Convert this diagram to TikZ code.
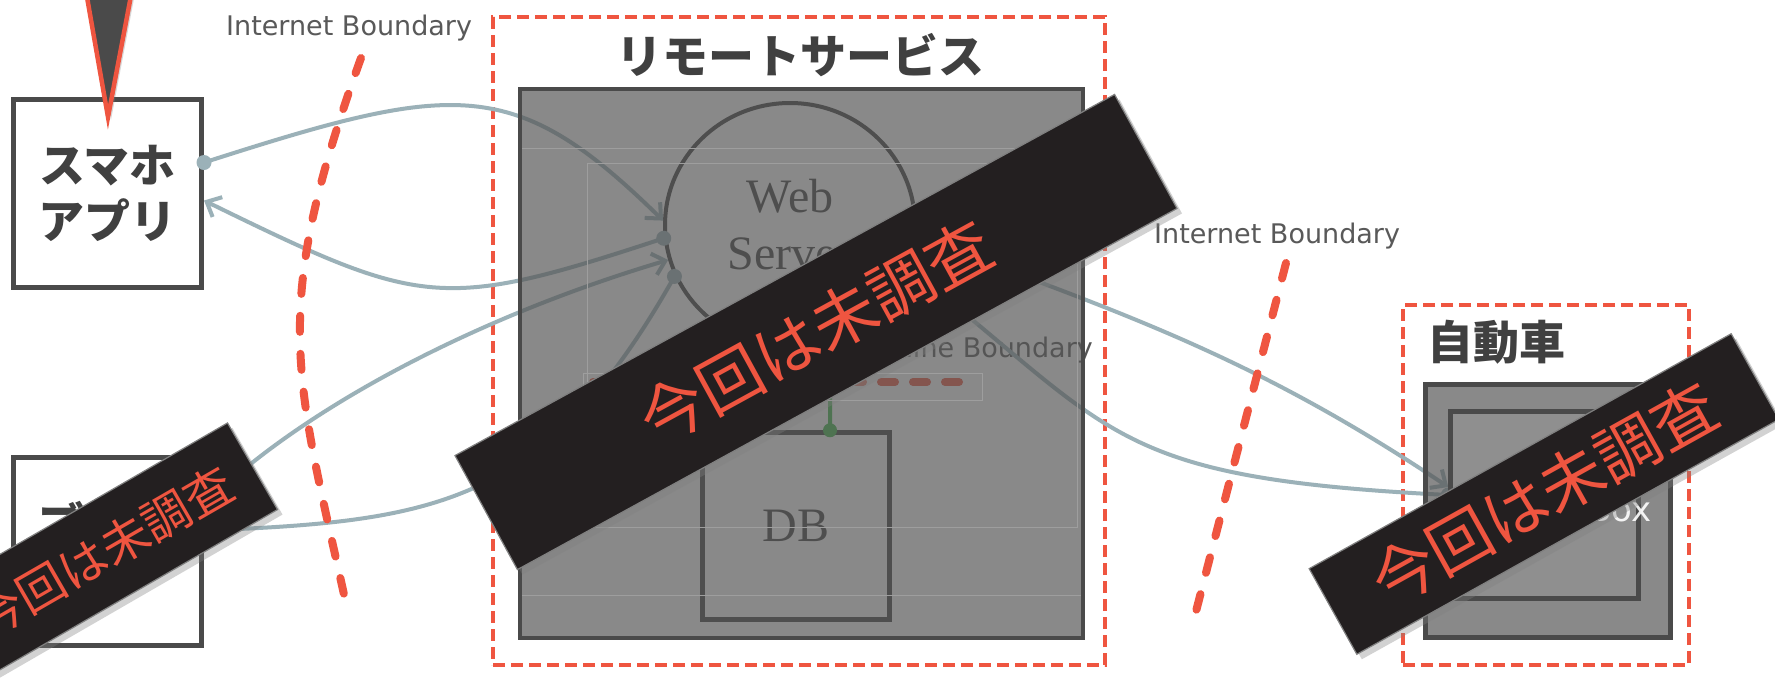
\documentclass[tikz,border=0pt]{standalone}
\usepackage{fontspec}
\setmainfont{Liberation Serif}
\newfontfamily\jpf{Noto Sans CJK JP}
\newfontfamily\dvs{DejaVu Sans}
\usetikzlibrary{arrows.meta,shapes.geometric,shadows}
\pgfdeclarelayer{bg}
\pgfdeclarelayer{ovlay}
\pgfdeclarelayer{top}
\pgfdeclarelayer{ban}
\pgfsetlayers{bg,main,ovlay,top,ban}
\definecolor{bdr}{HTML}{4A4A4A}
\definecolor{redd}{HTML}{EF5540}
\definecolor{lnk}{HTML}{9BB1B8}
\definecolor{ovl}{HTML}{555555}
\definecolor{bann}{HTML}{231F20}
\definecolor{grn}{HTML}{41BA4B}
\definecolor{txtg}{HTML}{595959}
\definecolor{jpt}{HTML}{404040}
\definecolor{inner}{HTML}{404040}
\definecolor{faint}{HTML}{9E9E9E}
\begin{document}
\begin{tikzpicture}[x=1pt,y=-1pt,
  box/.style={draw=bdr, line width=5pt, fill=white, inner sep=0pt},
  conn/.style={draw=lnk, line width=4pt},
  barb/.style={-{Straight Barb[length=12pt,width=22pt]}},
  redbox/.style={draw=redd, line width=4pt, dash pattern=on 12pt off 6pt, inner sep=0pt},
  bound/.style={draw=redd, line width=8pt, line cap=round, dash pattern=on 16pt off 22pt},
  banner/.style={fill=bann, draw=gray, line width=1.2pt, inner sep=0pt, text=redd,
    drop shadow={shadow xshift=5pt,shadow yshift=-5pt,opacity=0.35}},
  jptitle/.style={font=\jpf\bfseries\fontsize{46}{56}\selectfont, text=jpt, inner sep=0pt},
  ibl/.style={font=\dvs\fontsize{27}{32}\selectfont, text=txtg, inner sep=0pt},
  serif48/.style={font=\fontsize{48}{57}\selectfont, text=inner},
  graybox/.style={draw=bdr, line width=4.5pt, fill=ovl, fill opacity=0.694, draw opacity=1, inner sep=0pt},
]
\begin{pgfonlayer}{bg}
\fill[white] (0,0) rectangle (1775,681);
% containers
\node[redbox, fill=white, minimum width=612, minimum height=648] (remote) at (799,341) {};
\node[jptitle] (remotet) at (800,55) {リモートサービス};
\node[redbox, fill=white, minimum width=286, minimum height=360] (car) at (1546,485) {};
\node[jptitle, anchor=west] (cart) at (1427,342) {自動車};
% client boxes
\node[box, minimum width=188, minimum height=188, align=center, font=\jpf\bfseries\fontsize{46}{56}\selectfont, text=jpt] (phone) at (107.5,193.5) {スマホ\\アプリ};
\node[box, minimum width=188, minimum height=188, align=center, font=\jpf\bfseries\fontsize{46}{56}\selectfont, text=jpt] (br) at (107.5,551.5) {ブラウ\\ザ};
% labels
\node[ibl, anchor=base west] (ib1) at (226,35) {Internet Boundary};
\node[ibl, anchor=base west] (ib2) at (1154,243) {Internet Boundary};
\end{pgfonlayer}
\useasboundingbox (0,0) rectangle (1775,681);

\begin{pgfonlayer}{top}
\node[draw=bdr, line width=4.5pt, fill=black!44, minimum width=188, minimum height=187, inner sep=0pt] (bb) at (1544.5,505) {};
\node[anchor=base east, font=\dvs\fontsize{34}{40}\selectfont, text=white, text opacity=0.9, inner sep=0pt] (bbl) at (1652,521) {Black Box};
\end{pgfonlayer}

% remote service content (under the gray overlay)
\node[ellipse, draw=inner, line width=4pt, minimum width=250, minimum height=244, inner sep=0pt, align=center, serif48] (web) at (790,225) {Web\\Server};
\node[draw=inner, line width=4.5pt, minimum width=187, minimum height=187, inner sep=0pt, serif48] (db) at (796,526) {DB};
\draw[redd, line width=8pt, line cap=round, dash pattern=on 14pt off 18pt] (593,382) -- (968,382);
\node[ibl, text=ovl, anchor=base east] (mb) at (1093,357) {Machine Boundary};
\draw[grn, line width=4pt] ([xshift=34pt]db.north) -- (web.-71);
\fill[grn] ([xshift=34pt]db.north) circle (7pt);

% connectors
\draw[conn, barb] ([yshift=31pt]phone.east) .. controls (455,82) and (514,74) .. (web.178.6);
\fill[lnk] ([yshift=31pt]phone.east) circle (7.5pt);
\draw[conn, barb] (web.186.8) .. controls (440,312) and (422,307) .. ([yshift=-7pt]phone.east);
\fill[lnk] (web.186.8) circle (7.5pt);
\draw[conn, barb] ([yshift=46pt]br.east) .. controls (294,415) and (466,320) .. (web.196);
\fill[lnk] ([yshift=46pt]br.east) circle (7.5pt);
\draw[conn, barb] (web.204.7) .. controls (547,503) and (440,521) .. ([yshift=21pt]br.east);
\fill[lnk] (web.204.7) circle (7.5pt);
\draw[conn, barb] (web.-5) .. controls (1115,311) and (1248,353) .. ([yshift=18pt]bb.west);
\fill[lnk] (web.-5) circle (7.5pt);
\draw[conn, barb] ([yshift=10pt]bb.west) .. controls (1109,478) and (1117,433) .. (web.-20);
\fill[lnk] ([yshift=10pt]bb.west) circle (7.5pt);

% internet boundaries
\draw[bound] (361,58) .. controls (269,313) and (295,372) .. (347,608);
\draw[bound] (1286,263) -- (1193,623);

% pointer triangle
\filldraw[fill=bdr, draw=redd, line width=4.5pt, drop shadow={shadow xshift=3pt,shadow yshift=-3pt,opacity=0.3}] (84,-20) -- (108,117) -- (134,-20) -- cycle;

\begin{pgfonlayer}{ovlay}
\node[graybox, minimum width=563, minimum height=549] (rgray) at (801.5,363.5) {};
\draw[faint, line width=1pt] (522,148) -- (1081,148);
\draw[faint, line width=1pt] (522,595) -- (1081,595);
\draw[faint, line width=1pt] (587,163) rectangle (1077,527);
\draw[faint, line width=1pt] (583,373) rectangle (982,400);
\node[graybox, minimum width=245, minimum height=253] (cgray) at (1548,511) {};
\end{pgfonlayer}

\begin{pgfonlayer}{ban}
\node[banner, rotate=28.7, minimum width=752, minimum height=130, font=\jpf\fontsize{65}{65}\selectfont] (ban1) at (816,332) {今回は未調査};
\node[banner, rotate=30, minimum width=343, minimum height=100, font=\jpf\fontsize{48}{48}\selectfont] (ban2) at (104,552) {今回は未調査};
\node[banner, rotate=29.1, minimum width=483, minimum height=98, font=\jpf\fontsize{64}{64}\selectfont] (ban3) at (1544,494) {今回は未調査};
\end{pgfonlayer}
\end{tikzpicture}
\end{document}
